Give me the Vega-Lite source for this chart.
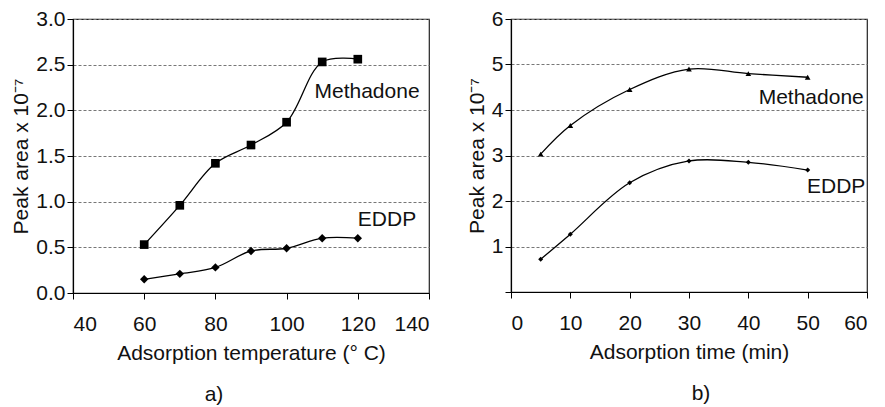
{
  "$schema": "https://vega.github.io/schema/vega-lite/v6.json",
  "background": "white",
  "padding": {"left": 10, "top": 7, "right": 5, "bottom": 0},
  "bounds": "flush",
  "spacing": 82,
  "config": {
    "font": "Liberation Sans",
    "view": {"stroke": "#222222", "strokeWidth": 1.2},
    "axis": {
      "domainColor": "#000000",
      "domainWidth": 1.2,
      "tickColor": "#000000",
      "tickSize": 6,
      "labelFontSize": 21,
      "labelColor": "#111111",
      "titleFontSize": 21,
      "titleFontWeight": "normal",
      "titleColor": "#111111"
    },
    "axisX": {"grid": false, "labelPadding": 14, "titlePadding": 8},
    "axisY": {"grid": true, "gridDash": [3, 2], "gridColor": "#777777", "gridWidth": 1, "labelPadding": 2, "titlePadding": 4},
    "title": {"fontSize": 21, "fontWeight": "normal", "orient": "bottom", "color": "#111111"}
  },
  "datasets": {
    "temp": [
      {"t": 60, "area": 0.53, "compound": "Methadone"},
      {"t": 70, "area": 0.96, "compound": "Methadone"},
      {"t": 80, "area": 1.42, "compound": "Methadone"},
      {"t": 90, "area": 1.62, "compound": "Methadone"},
      {"t": 100, "area": 1.87, "compound": "Methadone"},
      {"t": 110, "area": 2.53, "compound": "Methadone"},
      {"t": 120, "area": 2.56, "compound": "Methadone"},
      {"t": 60, "area": 0.15, "compound": "EDDP"},
      {"t": 70, "area": 0.21, "compound": "EDDP"},
      {"t": 80, "area": 0.28, "compound": "EDDP"},
      {"t": 90, "area": 0.46, "compound": "EDDP"},
      {"t": 100, "area": 0.49, "compound": "EDDP"},
      {"t": 110, "area": 0.6, "compound": "EDDP"},
      {"t": 120, "area": 0.6, "compound": "EDDP"}
    ],
    "tempLabels": [
      {"t": 122.6, "area": 2.2, "label": "Methadone"},
      {"t": 128.2, "area": 0.8, "label": "EDDP"}
    ],
    "time": [
      {"min": 5, "area": 3.03, "compound": "Methadone"},
      {"min": 10, "area": 3.66, "compound": "Methadone"},
      {"min": 20, "area": 4.45, "compound": "Methadone"},
      {"min": 30, "area": 4.9, "compound": "Methadone"},
      {"min": 40, "area": 4.8, "compound": "Methadone"},
      {"min": 50, "area": 4.72, "compound": "Methadone"},
      {"min": 5, "area": 0.72, "compound": "EDDP"},
      {"min": 10, "area": 1.27, "compound": "EDDP"},
      {"min": 20, "area": 2.4, "compound": "EDDP"},
      {"min": 30, "area": 2.88, "compound": "EDDP"},
      {"min": 40, "area": 2.85, "compound": "EDDP"},
      {"min": 50, "area": 2.68, "compound": "EDDP"}
    ],
    "timeLabels": [
      {"min": 50.6, "area": 4.26, "label": "Methadone"},
      {"min": 54.8, "area": 2.31, "label": "EDDP"}
    ]
  },
  "hconcat": [
    {
      "width": 356,
      "height": 274,
      "title": {"text": "a)", "dx": -37, "offset": 21},
      "layer": [
        {
          "data": {"name": "temp"},
          "mark": {"type": "line", "interpolate": "catmull-rom", "color": "#000000", "strokeWidth": 1.3},
          "encoding": {
            "x": {"field": "t", "type": "quantitative", "scale": {"domain": [40, 140], "nice": false}, "axis": {"values": [40, 60, 80, 100, 120, 140], "title": "Adsorption temperature (° C)"}},
            "y": {"field": "area", "type": "quantitative", "scale": {"domain": [0, 3], "nice": false}, "axis": {"values": [0, 0.5, 1, 1.5, 2, 2.5, 3], "format": ".1f", "title": "Peak area x 10⁻⁷"}},
            "detail": {"field": "compound"}
          }
        },
        {
          "data": {"name": "temp"},
          "mark": {"type": "point", "filled": true, "color": "#000000", "opacity": 1},
          "encoding": {
            "x": {"field": "t", "type": "quantitative"},
            "y": {"field": "area", "type": "quantitative"},
            "shape": {"field": "compound", "type": "nominal", "scale": {"domain": ["Methadone", "EDDP"], "range": ["square", "diamond"]}, "legend": null},
            "size": {"field": "compound", "type": "nominal", "scale": {"domain": ["Methadone", "EDDP"], "range": [75, 70]}, "legend": null}
          }
        },
        {
          "data": {"name": "tempLabels"},
          "mark": {"type": "text", "fontSize": 21, "color": "#111111"},
          "encoding": {
            "x": {"field": "t", "type": "quantitative"},
            "y": {"field": "area", "type": "quantitative"},
            "text": {"field": "label"}
          }
        }
      ]
    },
    {
      "width": 356,
      "height": 273,
      "title": {"text": "b)", "dx": 12, "offset": 21},
      "layer": [
        {
          "data": {"name": "time"},
          "mark": {"type": "line", "interpolate": "catmull-rom", "color": "#000000", "strokeWidth": 1.3},
          "encoding": {
            "x": {"field": "min", "type": "quantitative", "scale": {"domain": [0, 60], "nice": false}, "axis": {"values": [0, 10, 20, 30, 40, 50, 60], "title": "Adsorption time (min)"}},
            "y": {"field": "area", "type": "quantitative", "scale": {"domain": [0, 6], "nice": false}, "axis": {"values": [0, 1, 2, 3, 4, 5, 6], "labelExpr": "datum.value == 0 ? '' : datum.label", "title": "Peak area x 10⁻⁷"}},
            "detail": {"field": "compound"}
          }
        },
        {
          "data": {"name": "time"},
          "mark": {"type": "point", "filled": true, "color": "#000000", "opacity": 1},
          "encoding": {
            "x": {"field": "min", "type": "quantitative"},
            "y": {"field": "area", "type": "quantitative"},
            "shape": {"field": "compound", "type": "nominal", "scale": {"domain": ["Methadone", "EDDP"], "range": ["triangle-up", "diamond"]}, "legend": null},
            "size": {"field": "compound", "type": "nominal", "scale": {"domain": ["Methadone", "EDDP"], "range": [32, 25]}, "legend": null}
          }
        },
        {
          "data": {"name": "timeLabels"},
          "mark": {"type": "text", "fontSize": 21, "color": "#111111"},
          "encoding": {
            "x": {"field": "min", "type": "quantitative"},
            "y": {"field": "area", "type": "quantitative"},
            "text": {"field": "label"}
          }
        }
      ]
    }
  ],
  "resolve": {"scale": {"shape": "independent", "size": "independent"}}
}
